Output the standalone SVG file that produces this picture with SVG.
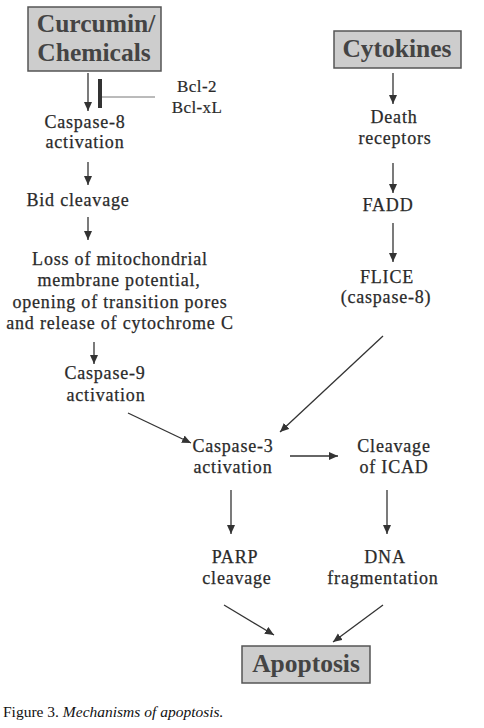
<svg xmlns="http://www.w3.org/2000/svg" width="484" height="728" viewBox="0 0 484 728">
<style>
.box{fill:#cdcdcd;stroke:#555;stroke-width:1.5}
.title{font-family:"Liberation Serif",serif;font-weight:bold;font-size:25.5px;fill:#444;text-anchor:middle}
.t{font-family:"Liberation Serif",serif;font-size:18px;letter-spacing:0.8px;fill:#2a2a2a;stroke:#2a2a2a;stroke-width:0.25;text-anchor:middle}
.s{font-family:"Liberation Serif",serif;font-size:17px;letter-spacing:0.4px;fill:#2a2a2a;stroke:#2a2a2a;stroke-width:0.2;text-anchor:middle}
.cap{font-family:"Liberation Serif",serif;font-size:15.5px;fill:#111}
.c line{stroke:#333;stroke-width:1.3;marker-end:url(#ah)}
</style>
<defs>
<marker id="ah" markerUnits="userSpaceOnUse" markerWidth="10" markerHeight="9" refX="9" refY="4" orient="auto">
<path d="M0,0 L9,4 L0,8 z" fill="#333"/>
</marker>
</defs>
<rect width="484" height="728" fill="#fff"/>
<g id="curcumin"><rect class="box" x="28" y="7" width="133" height="64"/><text class="title" x="96" y="32">Curcumin/</text><text class="title" x="94" y="61">Chemicals</text></g>
<g id="cytokines"><rect class="box" x="334" y="31" width="127" height="37"/><text class="title" x="397" y="57">Cytokines</text></g>
<g id="bcl"><text class="s" x="197" y="92">Bcl-2</text><text class="s" x="197" y="113">Bcl-xL</text></g>
<g id="casp8"><text class="t" x="85" y="128">Caspase-8</text><text class="t" x="85" y="148">activation</text></g>
<g id="bid"><text class="t" x="78" y="206">Bid cleavage</text></g>
<g id="loss"><text class="t" x="120" y="265">Loss of mitochondrial</text><text class="t" x="119" y="286">membrane potential,</text><text class="t" x="120" y="308">opening of transition pores</text><text class="t" x="120" y="329">and release of cytochrome C</text></g>
<g id="casp9"><text class="t" x="105" y="379">Caspase-9</text><text class="t" x="106" y="401">activation</text></g>
<g id="death"><text class="t" x="394" y="123">Death</text><text class="t" x="395" y="144">receptors</text></g>
<g id="fadd"><text class="t" x="388" y="211">FADD</text></g>
<g id="flice"><text class="t" x="387" y="283">FLICE</text><text class="t" x="386" y="303">(caspase-8)</text></g>
<g id="casp3"><text class="t" x="233" y="452">Caspase-3</text><text class="t" x="233" y="473">activation</text></g>
<g id="icad"><text class="t" x="394" y="452">Cleavage</text><text class="t" x="394" y="473">of ICAD</text></g>
<g id="parp"><text class="t" x="235" y="563">PARP</text><text class="t" x="237" y="584">cleavage</text></g>
<g id="dna"><text class="t" x="385" y="563">DNA</text><text class="t" x="383" y="584">fragmentation</text></g>
<g id="apoptosis"><rect class="box" x="242" y="646" width="128" height="37"/><text class="title" x="306" y="672">Apoptosis</text></g>
<g id="connectors" class="c">
<line x1="88" y1="73" x2="88" y2="111"/>
<line x1="88" y1="162" x2="88" y2="185"/>
<line x1="88" y1="217" x2="88" y2="240"/>
<line x1="94" y1="342" x2="94" y2="364"/>
<line x1="393" y1="73" x2="393" y2="104"/>
<line x1="393" y1="163" x2="393" y2="193"/>
<line x1="393" y1="223" x2="393" y2="262"/>
<line x1="128" y1="413" x2="191" y2="443"/>
<line x1="383" y1="336" x2="280" y2="432"/>
<line x1="290" y1="456" x2="338" y2="456"/>
<line x1="231" y1="490" x2="231" y2="534"/>
<line x1="387" y1="490" x2="387" y2="534"/>
<line x1="224" y1="605" x2="274" y2="635"/>
<line x1="383" y1="605" x2="333" y2="642"/>
<line x1="101" y1="97" x2="155" y2="97" style="marker-end:none;stroke:#777;stroke-width:1"/>
<line x1="100" y1="79" x2="100" y2="108" style="marker-end:none;stroke:#333;stroke-width:4"/>
</g>
<text class="cap" x="3" y="717">Figure 3. <tspan font-style="italic">Mechanisms of apoptosis.</tspan></text>
</svg>
